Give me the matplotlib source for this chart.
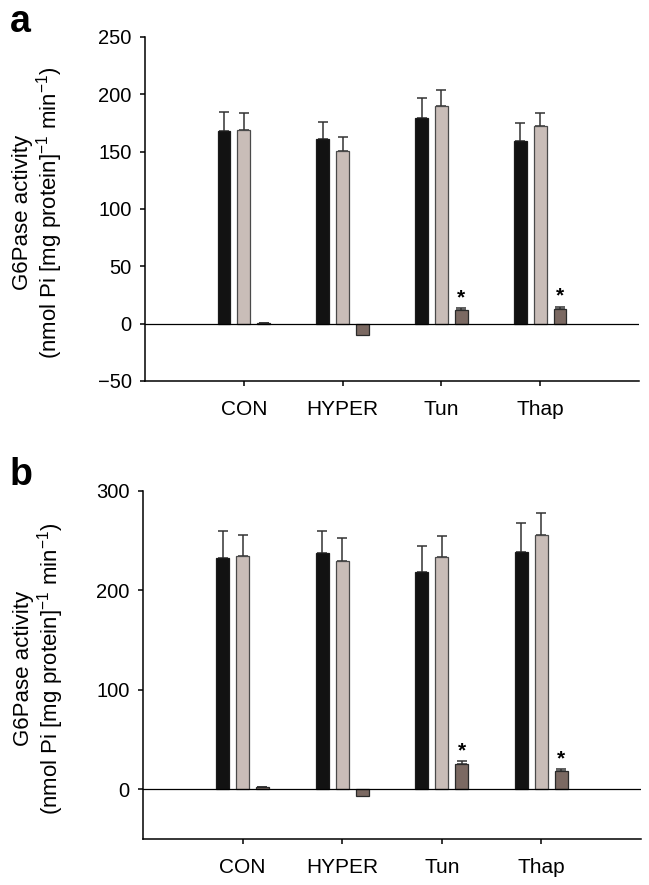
"""
G6Pase activity, two panels (a and b), grouped bars with SEM
"""
import numpy as np
import matplotlib
matplotlib.use("Agg")
import matplotlib.pyplot as plt

plt.rcParams["font.family"] = ["Liberation Sans", "DejaVu Sans"]
plt.rcParams["mathtext.fontset"] = "custom"
plt.rcParams["mathtext.rm"] = "Liberation Sans"
plt.rcParams["mathtext.it"] = "Liberation Sans"

groups = ["CON", "HYPER", "Tun", "Thap"]

# panel a
a_black = [168, 161, 179, 159]
a_black_err = [17, 15, 18, 16]
a_gray = [169, 151, 190, 172]
a_gray_err = [15, 12, 14, 12]
a_brown = [1, -10, 12, 13]
a_brown_err = [0, 0, 1.5, 1.5]
a_star = [False, False, True, True]

# panel b
b_black = [233, 238, 219, 239]
b_black_err = [27, 22, 26, 29]
b_gray = [235, 230, 234, 256]
b_gray_err = [21, 23, 21, 22]
b_brown = [2, -7, 25, 18]
b_brown_err = [0, 0, 3.5, 2]
b_star = [False, False, True, True]

colors = ["#121212", "#c9bdb8", "#7b6962"]
edges = ["#1a1a1a", "#4a4a4a", "#2a2a2a"]


def draw_panel(ax, series, errs, stars, ylim, yticks, label_x):
    x = np.arange(1, len(groups) + 1)
    offsets = [-0.2, 0.0, 0.2]
    for vals, err, off, col, ec in zip(series, errs, offsets, colors, edges):
        ax.bar(x + off, vals, width=0.13, color=col, edgecolor=ec, linewidth=0.9, zorder=3)
        up = [e if e > 0 else 0 for e in err]
        lo = [0] * len(err)
        ax.errorbar(x + off, vals, yerr=[lo, up], fmt="none", ecolor="#333333",
                    elinewidth=1.1, capsize=3.8, capthick=1.1, zorder=2)
    # significance marks on the third series
    for xi, v, e, s in zip(x, series[2], errs[2], stars):
        if s:
            ax.text(xi + 0.2, v + e + 1, "*", ha="center", va="bottom",
                    fontsize=15, fontweight="bold")
    ax.axhline(0, color="black", linewidth=0.9, zorder=4)
    ax.set_xlim(0, 5)
    ax.set_ylim(*ylim)
    ax.set_yticks(yticks)
    ax.set_xticks(x)
    ax.set_xticklabels(groups)
    ax.spines["top"].set_visible(False)
    ax.spines["right"].set_visible(False)
    ax.spines["left"].set_linewidth(1.1)
    ax.spines["bottom"].set_linewidth(1.1)
    ax.tick_params(axis="y", labelsize=14.5, length=3.5, width=1.1, pad=6)
    ax.tick_params(axis="x", labelsize=15, length=3.5, width=1.1, pad=10)
    ax.set_ylabel("G6Pase activity\n(nmol Pi [mg protein]$^{-1}$ min$^{-1}$)",
                  fontsize=16, linespacing=1.05)
    ax.yaxis.set_label_coords(label_x, 0.49)


fig = plt.figure(figsize=(6.49, 8.85), dpi=100)
ax_a = fig.add_axes([0.2234, 0.5695, 0.7612, 0.3887])
ax_b = fig.add_axes([0.2203, 0.052, 0.7673, 0.3932])

draw_panel(ax_a, [a_black, a_gray, a_brown], [a_black_err, a_gray_err, a_brown_err],
           a_star, (-50, 250), [-50, 0, 50, 100, 150, 200, 250], -0.161)
draw_panel(ax_b, [b_black, b_gray, b_brown], [b_black_err, b_gray_err, b_brown_err],
           b_star, (-50, 300), [0, 100, 200, 300], -0.155)

fig.text(0.0154, 1 - 32 / 885, "a", fontsize=27, fontweight="bold", va="baseline", ha="left")
fig.text(0.0154, 1 - 485 / 885, "b", fontsize=27, fontweight="bold", va="baseline", ha="left")

plt.savefig("out.png", dpi=100)
plt.close()
